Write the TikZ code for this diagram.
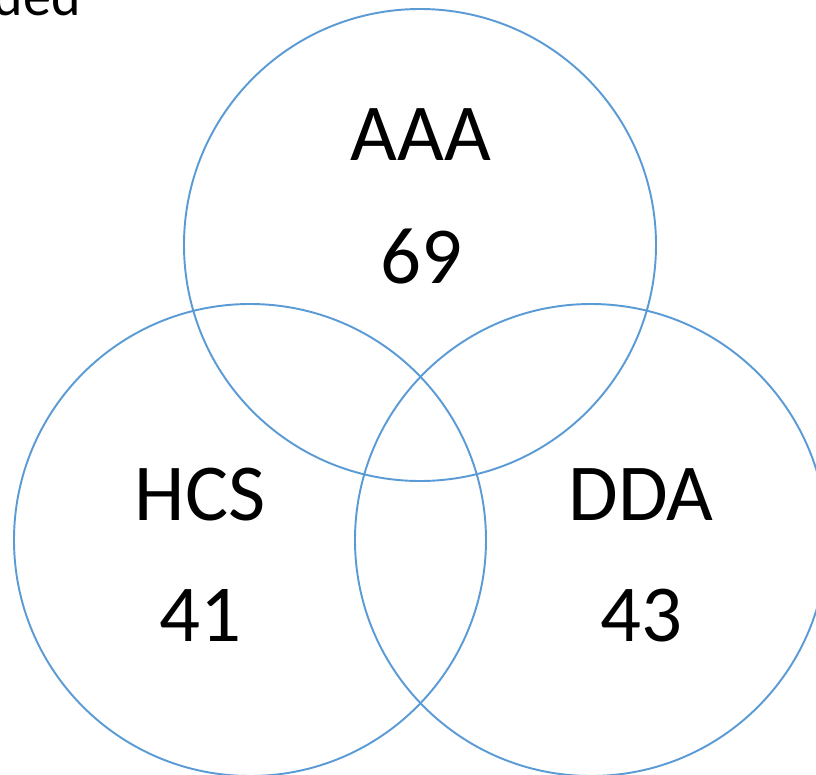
\documentclass[tikz,border=0pt]{standalone}
\usepackage{fontspec}
\setmainfont{Carlito}
\definecolor{setblue}{RGB}{91, 155, 213}
\usetikzlibrary{positioning}

\begin{document}
\begin{tikzpicture}[
      x=0.02cm, y=-0.02cm,
      setcircle/.style={circle, draw=setblue, line width=1.1pt,
                        minimum size=472*0.02cm, inner sep=0pt},
      setname/.style={font=\fontsize{46}{50}\selectfont, inner sep=0pt},
      setcount/.style={font=\fontsize{46}{50}\selectfont, inner sep=0pt}
    ]
      \useasboundingbox (0,0) rectangle (816,775);
      \clip (0,0) rectangle (816,775);

      % cut-off caption at top left
      \node[anchor=base east, inner sep=0pt, font=\fontsize{32}{36}\selectfont] (caption) at (81,15) {ded};

      % the three sets
      \node[setcircle] (aaa) at (420,245) {};
      \node[setcircle] (hcs) at (250,540) {};
      \node[setcircle] (dda) at (591,540) {};

      % labels and counts
      \node[setname] (aaaname) at (421,135) {AAA};
      \node[setcount, below=1.35cm of aaaname] (aaacount) {69};
      \node[setname] (hcsname) at (200,495) {HCS};
      \node[setcount, below=1.35cm of hcsname] (hcscount) {41};
      \node[setname] (ddaname) at (641,495) {DDA};
      \node[setcount, below=1.35cm of ddaname] (ddacount) {43};

    \end{tikzpicture}
\end{document}
